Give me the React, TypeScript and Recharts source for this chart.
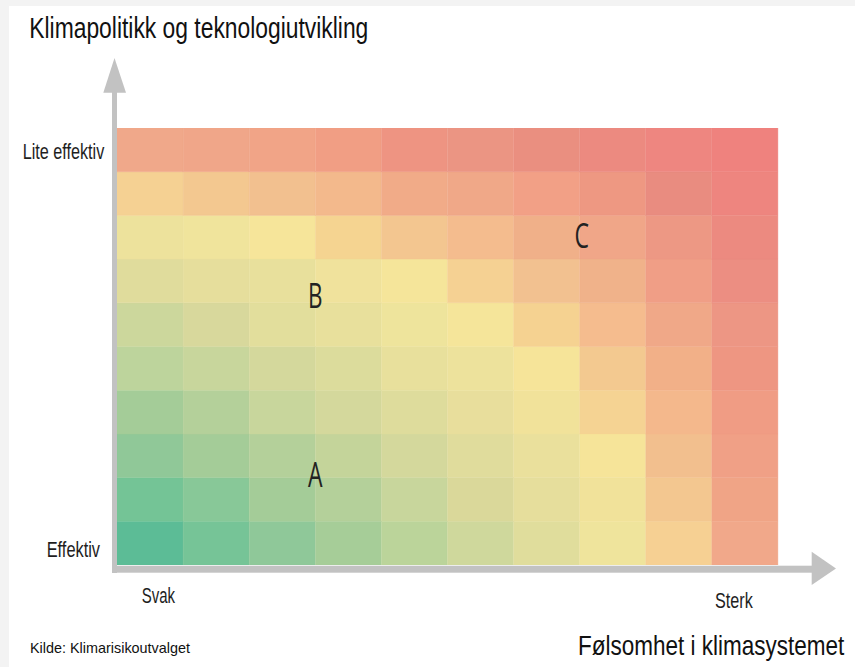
import React from "react";
import { ComposedChart, Bar, Cell, XAxis, YAxis, Scatter } from "recharts";

// ---- data ----
const columns = ["c0", "c1", "c2", "c3", "c4", "c5", "c6", "c7", "c8", "c9"];
const rowKeys = ["r0", "r1", "r2", "r3", "r4", "r5", "r6", "r7", "r8", "r9"]; // bottom -> top
const xTickLabels: Record<string, string> = { c0: "Svak", c9: "Sterk" };
const yTickValues = [0.5, 9.5];
const yTickLabels: Record<number, string> = { 0.5: "Effektiv", 9.5: "Lite effektiv" };

// colours of the cells, rows listed from top ("Lite effektiv") to bottom ("Effektiv")
const cellColors = [
  ["#F0A88A", "#F0A689", "#F1A487", "#F19E84", "#EE9482", "#EB9583", "#EA8F80", "#EC8A80", "#EE8680", "#EF827E"],
  ["#F5D193", "#F3C890", "#F2C08F", "#F3B98C", "#F1AB88", "#F0A888", "#F2A086", "#EE9882", "#E98C80", "#EE857F"],
  ["#EDE29C", "#F0E49C", "#F6E59A", "#F5D491", "#F3C690", "#F4BC8E", "#F0B089", "#F0A688", "#ED9884", "#EC8A80"],
  ["#E0DC9C", "#E6DE9C", "#E8E09C", "#F0E29C", "#F5E59A", "#F5D193", "#F2C190", "#F0B28A", "#F09E86", "#EC8E82"],
  ["#CCD79C", "#D8D89C", "#E2DE9C", "#E8E09C", "#EEE49C", "#F5E59A", "#F5D291", "#F5BC8E", "#F0A888", "#ED9684"],
  ["#BDD49C", "#C8D69C", "#D4D89C", "#DCDC9C", "#E8E09C", "#EDE29C", "#F6E499", "#F3C990", "#F2B088", "#EE9682"],
  ["#A4CC98", "#B4D09A", "#C8D69C", "#D4D89C", "#DEDC9C", "#E8DE9C", "#F1E29A", "#F5D393", "#F4B88C", "#F09C84"],
  ["#90C898", "#A4CC98", "#B4D09A", "#C4D49A", "#D4D89C", "#E0DC9C", "#EAE09C", "#F6E499", "#F2BF8E", "#F0A086"],
  ["#74C496", "#88C898", "#A4CC98", "#B4D09A", "#C8D69C", "#DAD89A", "#E6DE9C", "#F1E29A", "#F3C790", "#F0A486"],
  ["#5CBC96", "#76C497", "#8FC899", "#A6CD98", "#BBD49A", "#CFD89C", "#E0DD9C", "#EFE49C", "#F6D093", "#F1A88A"],
];

// scenario letters (x: 0..10 across columns, y: 0..10 up the rows)
const letterLabels = ["A", "B", "C"];
const letterX = [3.0, 3.0, 7.03];
const letterY = [2.08, 6.17, 7.54];

const chartData = columns.map((col) => {
  const row: Record<string, any> = { col };
  rowKeys.forEach((k) => (row[k] = 1));
  return row;
});
const letterData = letterLabels.map((label, i) => ({ x: letterX[i], y: letterY[i], label }));

// ---- layout / style ----
const W = 855;
const H = 667;
const PLOT = { left: 117, right: 778, top: 128, bottom: 565 };
const FONT = "'Liberation Sans Narrow', 'Liberation Sans', Arial, sans-serif";
const WIDE_FONT = "'Liberation Sans', Arial, sans-serif";
const ARROW = "#C2C2C2";
const tickStyle: Record<string, { dx: number; dy: number; len: number }> = {
  Svak: { dx: 8.3, dy: 38.3, len: 33.3 },
  Sterk: { dx: -11, dy: 42.7, len: 37.7 },
  "Lite effektiv": { dx: -12.7, dy: 9.5, len: 81.6 },
  Effektiv: { dx: -17, dy: 13.5, len: 53.3 },
};

const XTick = (props: any) => {
  const { x, y, payload } = props;
  const label = xTickLabels[payload.value];
  if (!label) return null;
  const s = tickStyle[label];
  return (
    <text x={x + s.dx} y={y + s.dy} textAnchor="middle" fontFamily={FONT} fontSize={22} fill="#1e1e1e"
      textLength={s.len} lengthAdjust="spacingAndGlyphs">
      {label}
    </text>
  );
};

const YTick = (props: any) => {
  const { x, y, payload } = props;
  const label = yTickLabels[payload.value];
  if (!label) return null;
  const s = tickStyle[label];
  return (
    <text x={x + s.dx} y={y + s.dy} textAnchor="end" fontFamily={FONT} fontSize={22} fill="#1e1e1e"
      textLength={s.len} lengthAdjust="spacingAndGlyphs">
      {label}
    </text>
  );
};

const LetterShape = (props: any) => {
  const { cx, cy, payload } = props;
  return (
    <text x={cx} y={cy + 12.5} textAnchor="middle" fontFamily="'Open Sans', 'Liberation Sans', sans-serif"
      fontSize={34} fill="#222222" textLength={14.5} lengthAdjust="spacingAndGlyphs">
      {payload.label}
    </text>
  );
};

export default function App() {
  const nRows = rowKeys.length;
  return (
    <div style={{ position: "absolute", left: 0, top: 0, width: W, height: H, background: "#f3f3f3", overflow: "hidden" }}>
      <div style={{ position: "absolute", left: 9, top: 6, right: 0, bottom: 0, background: "#ffffff" }} />
      <div style={{ position: "absolute", left: 0, top: 0 }}>
        <ComposedChart
          width={W}
          height={H}
          data={chartData}
          margin={{ top: PLOT.top, right: W - PLOT.right, bottom: H - PLOT.bottom - 40, left: PLOT.left - 100 }}
          barCategoryGap={0}
          barGap={0}
        >
          <XAxis xAxisId="cat" dataKey="col" type="category" height={40} axisLine={false} tickLine={false}
            tickSize={0} tickMargin={0} interval={0} tick={<XTick />} />
          <XAxis xAxisId="num" dataKey="x" type="number" domain={[0, 10]} hide allowDataOverflow />
          <YAxis type="number" domain={[0, 10]} ticks={yTickValues} width={100} axisLine={false} tickLine={false}
            tickSize={0} tickMargin={0} tick={<YTick />} allowDataOverflow />
          {rowKeys.map((key, k) => (
            <Bar key={key} dataKey={key} xAxisId="cat" stackId="grid" isAnimationActive={false}>
              {columns.map((col, c) => {
                const color = cellColors[nRows - 1 - k][c];
                return <Cell key={col} fill={color} stroke={color} strokeWidth={0.4} />;
              })}
            </Bar>
          ))}
          <Scatter data={letterData} xAxisId="num" dataKey="y" shape={<LetterShape />} isAnimationActive={false} />
        </ComposedChart>
      </div>
      <svg width={W} height={H} style={{ position: "absolute", left: 0, top: 0, pointerEvents: "none" }}>
        {/* vertical axis arrow */}
        <rect x={PLOT.left - 5} y={92} width={5} height={PLOT.bottom + 8 - 92} fill={ARROW} />
        <polygon points={`${PLOT.left - 13.7},92.7 ${PLOT.left + 9},92.7 ${PLOT.left - 2.5},58`} fill={ARROW} />
        {/* horizontal axis arrow */}
        <rect x={PLOT.left - 5} y={PLOT.bottom + 0.7} width={812 - (PLOT.left - 5)} height={7} fill={ARROW} />
        <polygon points={`811.7,${PLOT.bottom - 13.3} 811.7,${PLOT.bottom + 20} 836,${PLOT.bottom + 3.5}`} fill={ARROW} />
        <text x={29.3} y={37.7} fontFamily={FONT} fontSize={29} fill="#111111" textLength={339} lengthAdjust="spacingAndGlyphs">
          Klimapolitikk og teknologiutvikling
        </text>
        <g transform="translate(578 655) scale(1 1.25)">
          <text x={0} y={0} fontFamily={WIDE_FONT} fontSize={22.5} fill="#111111">
            Følsomhet i klimasystemet
          </text>
        </g>
        <text x={30} y={653} fontFamily={FONT} fontSize={15} fill="#111111" textLength={160} lengthAdjust="spacingAndGlyphs">
          Kilde: Klimarisikoutvalget
        </text>
      </svg>
    </div>
  );
}
